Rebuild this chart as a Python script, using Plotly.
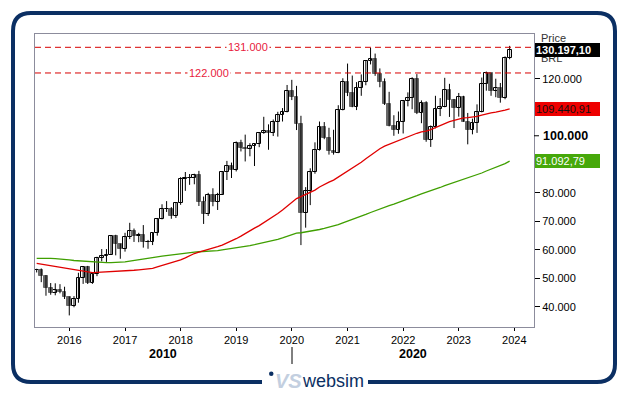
import plotly.graph_objects as go
import pandas as pd

# ---------------- data (IBOVESPA monthly, BRL) ----------------
months = pd.date_range("2015-06-01", "2023-12-01", freq="MS")

opens = [52800, 53081, 50865, 46625, 45059, 45868, 45120,
         43350, 40406, 42793, 50055, 53910, 48471, 51527, 57308, 57901, 58367, 64924, 61906,
         60227, 64670, 66662, 64984, 65403, 62711, 62900, 65920, 70835, 74294, 74308, 71971,
         76402, 84913, 85353, 85365, 86115, 76753, 72762, 79220, 76677, 79342, 87423, 89504,
         87887, 97393, 95584, 95414, 96353, 97030, 100967, 101812, 101135, 104745, 107220, 108233,
         115645, 113761, 104172, 73020, 80506, 87403, 95056, 102912, 99369, 94603, 93952, 108893,
         119017, 115068, 110035, 116634, 118894, 126216, 126802, 121801, 118781, 110979, 103501, 101915,
         104822, 112144, 113142, 119999, 107876, 111351, 98542, 103165, 109523, 110037, 116037, 112486,
         109735, 113532, 104932, 101882, 104432, 108335, 118087, 121943, 115742, 116565, 113144, 127331]
highs = [53400, 53500, 51200, 48400, 48300, 48000, 47100,
         43700, 43800, 52000, 54300, 54400, 52000, 57600, 60300, 60300, 64950, 65300, 62200,
         66000, 69500, 67500, 66000, 68700, 63500, 66000, 71200, 76000, 77100, 75000, 76500,
         85500, 87300, 86600, 86700, 87700, 78700, 80000, 81600, 80000, 87600, 91200, 90600,
         98000, 98600, 100400, 97400, 97200, 101000, 106650, 104000, 105700, 108400, 109700, 117800,
         119600, 117500, 107000, 82000, 88600, 97700, 105000, 104800, 102800, 102100, 110700, 120150,
         125300, 121100, 118800, 121500, 126200, 130800, 128800, 123600, 120100, 115400, 107200, 108500,
         112400, 115200, 120500, 121600, 112400, 112100, 103600, 114000, 113200, 120300, 118200, 112900,
         115000, 114000, 108000, 106000, 111000, 120400, 122500, 122000, 120000, 118500, 127800, 131500]
lows = [52100, 48700, 43950, 44300, 44100, 44800, 42800,
        37046, 39900, 41500, 48100, 48050, 48100, 50800, 56000, 55800, 58300, 58100, 56900,
        59400, 63800, 62800, 62700, 60800, 60400, 61700, 65000, 70700, 73300, 70900, 71200,
        75800, 80700, 82800, 83000, 75400, 69100, 71900, 75300, 74000, 79300, 84500, 85200,
        87500, 94500, 91000, 92800, 89400, 96000, 100700, 95100, 99900, 99700, 105000, 108200,
        112500, 102000, 61690, 67800, 75700, 86700, 94800, 98800, 93400, 93400, 93900, 108900,
        113900, 110000, 109000, 114000, 117700, 125000, 121000, 117000, 110800, 103300, 100000, 100700,
        100800, 110300, 109300, 107600, 104400, 97900, 96100, 102600, 106900, 110000, 106600, 102700,
        106700, 104900, 97000, 100500, 101000, 108200, 115800, 114000, 113500, 111600, 112800, 126800]
closes = [53081, 50865, 46625, 45059, 45868, 45120, 43350,
          40406, 42793, 50055, 53910, 48471, 51527, 57308, 57901, 58367, 64924, 61906, 60227,
          64670, 66662, 64984, 65403, 62711, 62900, 65920, 70835, 74294, 74308, 71971, 76402,
          84913, 85353, 85365, 86115, 76753, 72762, 79220, 76677, 79342, 87423, 89504, 87887,
          97393, 95584, 95414, 96353, 97030, 100967, 101812, 101135, 104745, 107220, 108233, 115645,
          113761, 104172, 73020, 80506, 87403, 95056, 102912, 99369, 94603, 93952, 108893, 119017,
          115068, 110035, 116634, 118894, 126216, 126802, 121801, 118781, 110979, 103501, 101915, 104822,
          112144, 113142, 119999, 107876, 111351, 98542, 103165, 109523, 110037, 116037, 112486, 109735,
          113532, 104932, 101882, 104432, 108335, 118087, 121943, 115742, 116565, 113144, 127331, 130197]

# moving averages (red: 50 periods, green: 100 periods), in thousands
ma_red = [55.25, 54.97, 54.66, 54.38, 54.17, 54.03, 53.73, 53.40, 53.12, 52.86, 52.60, 52.28,
          52.07, 52.13, 52.20, 52.25, 52.40, 52.46, 52.52, 52.66, 52.78, 52.88, 53.04, 53.17,
          53.31, 53.56, 54.03, 54.55, 55.04, 55.43, 55.87, 56.52, 57.20, 57.95, 58.73, 59.26,
          59.68, 60.24, 60.71, 61.18, 61.70, 62.41, 63.07, 63.93, 64.84, 65.81, 66.71, 67.62,
          68.52, 69.50, 70.46, 71.53, 72.75, 74.01, 75.41, 76.78, 78.00, 78.65, 79.40, 80.15,
          80.97, 82.06, 83.02, 83.76, 84.48, 85.50, 86.58, 87.64, 88.64, 89.68, 90.72, 91.95,
          93.17, 94.35, 95.47, 96.37, 97.03, 97.58, 98.19, 98.99, 99.73, 100.43, 100.88, 101.40,
          101.65, 102.18, 102.91, 103.53, 104.32, 104.98, 105.43, 105.91, 106.25, 106.34, 106.51,
          106.77, 107.21, 107.70, 108.00, 108.30, 108.54, 108.99, 109.44]
ma_green = [57.06, 57.11, 57.08, 57.01, 56.93, 56.84, 56.72, 56.52, 56.30, 56.17, 56.07, 55.96,
            55.84, 55.80, 55.70, 55.56, 55.56, 55.58, 55.63, 55.78, 56.07, 56.35, 56.63, 56.86,
            57.11, 57.36, 57.60, 57.81, 58.04, 58.21, 58.41, 58.64, 58.88, 59.06, 59.24, 59.35,
            59.41, 59.50, 59.59, 59.75, 60.01, 60.23, 60.46, 60.74, 60.99, 61.27, 61.54, 61.84,
            62.18, 62.51, 62.86, 63.26, 63.71, 64.20, 64.79, 65.40, 65.86, 66.02, 66.26, 66.50,
            66.78, 67.16, 67.54, 67.94, 68.34, 68.87, 69.49, 70.05, 70.58, 71.17, 71.75, 72.42,
            73.11, 73.76, 74.39, 74.96, 75.52, 76.06, 76.61, 77.20, 77.79, 78.47, 79.03, 79.67,
            80.19, 80.71, 81.29, 81.88, 82.51, 83.08, 83.56, 84.16, 84.66, 85.13, 85.67, 86.29,
            86.95, 87.66, 88.26, 88.90, 89.50, 90.26, 91.09]

level_lines = [131000, 122000]
level_labels = ["131.000", "122.000"]
y_ticks = [40000, 50000, 60000, 70000, 80000, 120000]
y_tick_text = ["40.000", "50.000", "60.000", "70.000", "80.000", "120.000"]
year_ticks = [f"{y}-01-01" for y in range(2016, 2025)]
year_labels = [str(y) for y in range(2016, 2025)]
last_price_text = "130.197,10"
ma_red_text = "109.440,91"
ma_green_text = "91.092,79"

# ---------------- layout geometry ----------------
W, H = 629, 395
L, R, T, B = 35, 534, 34, 327
def px(x):
    return (x - L) / (R - L)
def py(y):
    return (B - y) / (B - T)

NAVY = "#0b2f63"
FONT = "Arial, Liberation Sans, sans-serif"

fig = go.Figure()

# wicks
wx, wy = [], []
for d, h, l in zip(months, highs, lows):
    wx += [d, d, None]
    wy += [h, l, None]
fig.add_trace(go.Scatter(x=wx, y=wy, mode="lines", line=dict(color="black", width=1),
                         hoverinfo="skip", showlegend=False))

up_x, up_b, up_h, dn_x, dn_b, dn_h = [], [], [], [], [], []
for d, o, c in zip(months, opens, closes):
    if c >= o:
        up_x.append(d); up_b.append(o); up_h.append(max(c - o, 1))
    else:
        dn_x.append(d); dn_b.append(c); dn_h.append(o - c)
bw = 25 * 24 * 3600 * 1000
fig.add_trace(go.Bar(x=up_x, y=up_h, base=up_b, width=bw,
                     marker=dict(color="white", line=dict(color="black", width=1)), showlegend=False))
fig.add_trace(go.Bar(x=dn_x, y=dn_h, base=dn_b, width=bw,
                     marker=dict(color="#686868", line=dict(color="#686868", width=1)), showlegend=False))

fig.add_trace(go.Scatter(x=months, y=[v * 1000 for v in ma_green], mode="lines",
                         line=dict(color="#3f9f00", width=1.3), showlegend=False))
fig.add_trace(go.Scatter(x=months, y=[v * 1000 for v in ma_red], mode="lines",
                         line=dict(color="#e00000", width=1.3), showlegend=False))

shapes = []
anns = []
# level lines
for lv, lab, lx in zip(level_lines, level_labels, [248, 209]):
    shapes.append(dict(type="line", xref="paper", x0=0, x1=1, yref="y", y0=lv, y1=lv,
                       line=dict(color="#d80000", width=1, dash="6px,4px")))
    anns.append(dict(x=px(lx), xref="paper", y=lv, yref="y", text=lab, showarrow=False,
                     font=dict(family=FONT, size=11, color="#e8203c"), bgcolor="white",
                     borderpad=1, xanchor="center", yanchor="middle"))

# 100.000 bold label + tick
shapes.append(dict(type="line", xref="paper", x0=1, x1=px(539), yref="y", y0=100000, y1=100000,
                   line=dict(color="black", width=1)))
anns.append(dict(x=px(541), xref="paper", y=100000, yref="y", text="<b>100.000</b>", showarrow=False,
                 font=dict(family=FONT, size=12.5, color="black"), xanchor="left", yanchor="middle"))

# Price / BRL
anns.append(dict(x=px(539), xref="paper", y=py(38), yref="paper", text="Price", showarrow=False,
                 font=dict(family=FONT, size=11, color="#333"), xanchor="left", yanchor="middle"))
anns.append(dict(x=px(539), xref="paper", y=py(58), yref="paper", text="BRL", showarrow=False,
                 font=dict(family=FONT, size=11, color="#333"), xanchor="left", yanchor="middle"))

# value boxes
for txt, val, bg, fc, bold in [(last_price_text, closes[-1], "black", "white", True),
                               (ma_red_text, ma_red[-1] * 1000, "#ee0000", "#111", False),
                               (ma_green_text, ma_green[-1] * 1000, "#46a80a", "white", False)]:
    anns.append(dict(x=px(535), xref="paper", y=val, yref="y",
                     text=f"<b>{txt}</b>" if bold else txt, showarrow=False,
                     font=dict(family=FONT, size=11, color=fc), bgcolor=bg, borderpad=1, borderwidth=0,
                     width=63, height=12, align="left", xanchor="left", yanchor="middle"))

# second row of the x axis
anns.append(dict(x=px(163), xref="paper", y=py(354), yref="paper", text="<b>2010</b>", showarrow=False,
                 font=dict(family=FONT, size=12.5, color="black"), xanchor="center", yanchor="middle"))
anns.append(dict(x=px(413), xref="paper", y=py(354), yref="paper", text="<b>2020</b>", showarrow=False,
                 font=dict(family=FONT, size=12.5, color="black"), xanchor="center", yanchor="middle"))
shapes.append(dict(type="line", xref="paper", yref="paper", x0=px(292), x1=px(292), y0=py(347), y1=py(364),
                   line=dict(color="black", width=1)))

# outer rounded frame with gap for the logo
x0f, x1f, y0f, y1f, r = 13, 615, 13, 382, 18
pts = [("M", 262, y1f), ("L", x0f + r, y1f), ("Q", x0f, y1f, x0f, y1f - r), ("L", x0f, y0f + r),
       ("Q", x0f, y0f, x0f + r, y0f), ("L", x1f - r, y0f), ("Q", x1f, y0f, x1f, y0f + r),
       ("L", x1f, y1f - r), ("Q", x1f, y1f, x1f - r, y1f), ("L", 368, y1f)]
path = ""
for p in pts:
    cmd = p[0]
    coords = p[1:]
    seg = []
    for i in range(0, len(coords), 2):
        seg.append(f"{px(coords[i]):.5f},{py(coords[i+1]):.5f}")
    path += cmd + " ".join(seg) + " "
shapes.append(dict(type="path", xref="paper", yref="paper", path=path.strip(),
                   line=dict(color=NAVY, width=4)))

# logo
shapes.append(dict(type="circle", xref="paper", yref="paper", x0=px(269), x1=px(273.5), y0=py(371.5), y1=py(376),
                   fillcolor=NAVY, line=dict(width=0)))
anns.append(dict(x=px(288), xref="paper", y=py(381), yref="paper", text="<b><i>VS</i></b>", showarrow=False,
                 font=dict(family=FONT, size=20, color="#c3cfe0"), xanchor="center", yanchor="middle"))
anns.append(dict(x=px(300), xref="paper", y=py(381), yref="paper", text="websim", showarrow=False,
                 font=dict(family=FONT, size=18, color=NAVY), xanchor="left", yanchor="middle"))

fig.update_layout(
    width=W, height=H,
    margin=dict(l=L, r=W - R, t=T, b=H - B, pad=0),
    paper_bgcolor="white", plot_bgcolor="white",
    barmode="overlay", bargap=0, showlegend=False,
    shapes=shapes, annotations=anns,
    font=dict(family=FONT, size=11, color="black"),
    xaxis=dict(type="date", range=["2015-05-21", "2024-05-09"], showgrid=False, zeroline=False,
               tickvals=year_ticks, ticktext=year_labels, ticks="outside", ticklen=3, tickcolor="black",
               showline=True, linecolor="#8c8c9c", linewidth=1, mirror=True,
               tickfont=dict(family=FONT, size=11, color="black")),
    yaxis=dict(side="right", range=[32990, 135660], showgrid=False, zeroline=False,
               tickvals=y_ticks, ticktext=y_tick_text, ticks="outside", ticklen=5, tickcolor="black",
               showline=True, linecolor="#8c8c9c", linewidth=1, mirror=True,
               tickfont=dict(family=FONT, size=11, color="black")),
)

fig.write_html("out.html", config={"displayModeBar": False},
               post_script="document.body.style.margin='0';document.body.style.overflow='hidden';")
